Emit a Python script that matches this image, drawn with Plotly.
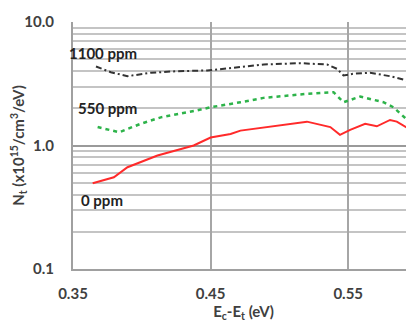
import plotly.graph_objects as go

# 0 ppm
x0 = [0.3643, 0.3797, 0.3896, 0.4114, 0.4377, 0.4500, 0.4645, 0.4717, 0.5200, 0.5370, 0.5440, 0.5514, 0.5623, 0.5708, 0.5804, 0.5853, 0.5937]
y0 = [0.495, 0.553, 0.667, 0.830, 1.00, 1.16, 1.24, 1.32, 1.56, 1.41, 1.22, 1.34, 1.50, 1.43, 1.61, 1.56, 1.37]
# 550 ppm
x550 = [0.3679, 0.3836, 0.3993, 0.4138, 0.4379, 0.4500, 0.4717, 0.4884, 0.5200, 0.5393, 0.5466, 0.5514, 0.5587, 0.5756, 0.5828, 0.5949]
y550 = [1.41, 1.28, 1.50, 1.69, 1.90, 2.04, 2.24, 2.43, 2.62, 2.70, 2.24, 2.34, 2.49, 2.24, 2.04, 1.54]
# 1100 ppm
x1100 = [0.3667, 0.3775, 0.3896, 0.4065, 0.4259, 0.4476, 0.4669, 0.4886, 0.5152, 0.5346, 0.5418, 0.5466, 0.5538, 0.5659, 0.5804, 0.5925]
y1100 = [4.36, 3.92, 3.64, 3.88, 4.00, 4.05, 4.26, 4.53, 4.64, 4.53, 4.18, 3.69, 3.81, 3.88, 3.64, 3.36]

xticks = [0.35, 0.45, 0.55]
xticklabels = ["0.35", "0.45", "0.55"]
yticks = [0.1, 1, 10]
yticklabels = ["0.1", "1.0", "10.0"]
yminor = [m * d for d in (0.1, 1) for m in range(2, 10)]

# label texts with positions in data units (x, log10 y)
labels = ["1100 ppm", "550 ppm", "0 ppm"]
label_x = [0.35, 0.3522, 0.3543]
label_logy = [0.745, 0.30, -0.445]
label_xshift = [-6, 0, 0]

font = "Lato"
tc = "#404040"

fig = go.Figure()
fig.add_trace(go.Scatter(x=x0, y=y0, mode="lines", line=dict(color="#ff2a2a", width=2), name="0 ppm"))
fig.add_trace(go.Scatter(x=x550, y=y550, mode="lines", line=dict(color="#2db34a", width=2.5, dash="4px,4px"), name="550 ppm"))
fig.add_trace(go.Scatter(x=x1100, y=y1100, mode="lines", line=dict(color="#333333", width=2, dash="6px,3px,2px,3px"), name="1100 ppm"))

for t, ax, ay, xs in zip(labels, label_x, label_logy, label_xshift):
    fig.add_annotation(x=ax, y=ay, yref="y", xref="x", text="<b>%s</b>" % t, showarrow=False,
                       xanchor="left", yanchor="middle", xshift=xs,
                       font=dict(family=font, size=15, color="#222222"))

# page body has an 8px margin, so figure is offset by 8px
fig.update_layout(
    width=406, height=314,
    margin=dict(l=65, r=0, t=14, b=53, autoexpand=False),
    plot_bgcolor="white", paper_bgcolor="white",
    showlegend=False,
    font=dict(family=font, size=15, color=tc),
    xaxis=dict(range=[0.35, 0.5978], tickvals=xticks, ticktext=["<b>%s</b>" % s for s in xticklabels],
               showgrid=True, gridcolor="#a6a6a6", gridwidth=1.5,
               showline=True, linecolor="#a0a0a0", linewidth=2,
               ticks="outside", ticklen=10, tickcolor="rgba(0,0,0,0)",
               zeroline=False,
               title=dict(text="<b>E<sub>c</sub>-E<sub>t</sub> (eV)</b>", standoff=0, font=dict(size=15, color=tc))),
    yaxis=dict(type="log", range=[-1, 1], tickvals=yticks, ticktext=["<b>%s</b>" % s for s in yticklabels],
               showgrid=True, gridcolor="#9a9a9a", gridwidth=2,
               minor=dict(tickvals=yminor, showgrid=True, gridcolor="#c4c4c4", gridwidth=1.5),
               showline=True, linecolor="#a0a0a0", linewidth=2, mirror=False,
               ticks="outside", ticklen=14, tickcolor="rgba(0,0,0,0)",
               zeroline=False,
               title=dict(text="<b>N<sub>t</sub> (x10<sup>15</sup>/cm<sup>3</sup>/eV)</b>", standoff=4, font=dict(size=15, color=tc))),
)

fig.write_html("out.html")
